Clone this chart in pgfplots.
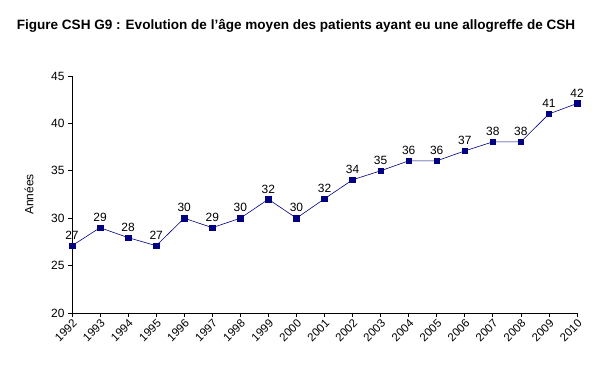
\documentclass[border=0pt]{standalone}
\usepackage{pgfplots}
\pgfplotsset{compat=1.18}
\usepackage{fontspec}
\setmainfont{Liberation Sans}
\definecolor{navy}{HTML}{000080}
\begin{document}
\begin{tikzpicture}
\useasboundingbox (-72bp,-59bp) rectangle (520bp,313bp);
\begin{axis}[
  at={(0,0)}, anchor=south west,
  scale only axis, width=505bp, height=237bp,
  xmin=1992, xmax=2010, ymin=20, ymax=45,
  xtick={1992,...,2010}, ytick={20,25,...,45},
  axis x line*=bottom, axis y line*=left,
  axis line style={-, black, line width=0.6bp},
  tick align=outside, major tick length=4bp,
  tick style={black, line width=0.6bp},
  /pgf/number format/assume math mode=true,
  /pgf/number format/1000 sep={},
  ticklabel style={font=\fontsize{12}{14}\selectfont},
  xticklabel style={rotate=45, anchor=north east, font=\fontsize{11.5}{12}\selectfont, inner sep=1bp},
  ylabel={Années},
  ylabel style={at={(axis description cs:-0.085,0.5)}, anchor=center, font=\fontsize{12}{14}\selectfont},
  nodes near coords,
  nodes near coords style={black, font=\fontsize{12}{14}\selectfont, anchor=south, yshift=2.5bp,
     /pgf/number format/fixed, /pgf/number format/precision=0, /pgf/number format/assume math mode=true},
  clip=false,
]
\addplot[color=navy, line width=0.6bp, mark=square*, mark size=2.8bp, mark options={fill=navy, draw=navy}]
coordinates {
(1992,27.1) (1993,29.0) (1994,27.95) (1995,27.1) (1996,30.0) (1997,29.0) (1998,30.0) (1999,32.0) (2000,30.0) (2001,32.05) (2002,34.05) (2003,35.0) (2004,36.05) (2005,36.05) (2006,37.1) (2007,38.05) (2008,38.05) (2009,41.0) (2010,42.1)
};
\end{axis}
\node[font=\fontsize{13.6}{16}\selectfont\bfseries] at (224bp,287bp) {Figure CSH G9 : Evolution de l'âge moyen des patients ayant eu une allogreffe de CSH};
\end{tikzpicture}
\end{document}
